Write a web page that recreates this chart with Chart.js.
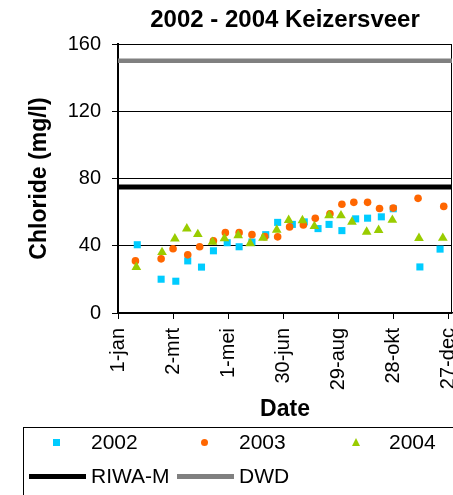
<!DOCTYPE html>
<html>
<head>
<meta charset="utf-8">
<script src="https://cdn.jsdelivr.net/npm/chart.js@4"></script>
<style>
  html, body { margin: 0; padding: 0; background: #fff; overflow: hidden; }
  #wrap { position: relative; width: 453px; height: 495px; font-family: "Liberation Sans", Arial, sans-serif; overflow: hidden; }
  #legend { position: absolute; left: 23px; top: 427px; width: 450px; height: 80px; border: 1px solid #000; box-sizing: border-box; }
  .txt { position: absolute; font-size: 21px; line-height: 24px; color: #000; white-space: nowrap; }
  .mark { position: absolute; }
</style>
</head>
<body>
<div id="wrap">
  <canvas id="chloride" width="453" height="495"></canvas>
  <div id="legend"></div>
</div>
<script>
// chloride at Keizersveer, day of year vs mg/l

const tickDays = [0, 60, 120, 180, 240, 300, 360];
const tickLabels = ['1-jan', '2-mrt', '1-mei', '30-jun', '29-aug', '28-okt', '27-dec'];
const yTicks = [0, 40, 80, 120, 160];

const seriesNames = ['2002', '2003', '2004'];
const seriesColors = ['#00CCFF', '#FF6600', '#99CC00'];

const days2002 = [21, 47, 63, 76, 91, 104, 119, 132, 146, 161, 174, 190, 203, 218, 230, 244, 259, 272, 287, 300, 329, 351];
const chloride2002 = [40.6, 20.1, 18.9, 31, 27.3, 37, 41.8, 39.4, 42.2, 46.6, 53.9, 52.7, 54.2, 50.2, 52.7, 49, 56, 56.4, 57.2, 62, 27.4, 38];

const days2003 = [19, 47, 60, 76, 89, 104, 117, 132, 146, 160, 174, 187, 202, 215, 231, 244, 257, 272, 285, 300, 327, 355];
const chloride2003 = [31, 32.2, 38.2, 34.6, 39.4, 43, 47.8, 47.8, 46.6, 45.4, 45.3, 51.2, 52.3, 56.3, 59, 64.7, 65.8, 65.8, 62.2, 62.4, 68.2, 63.4];

const days2004 = [20, 48, 62, 75, 87, 103, 116, 131, 144, 158, 173, 186, 201, 214, 230, 243, 255, 271, 284, 299, 328, 354];
const chloride2004 = [27.3, 36.1, 44.2, 50.2, 46.8, 42.2, 44.3, 46.2, 41.4, 44.6, 49.4, 55.2, 55.1, 51.6, 58, 58, 54.2, 48.2, 49.3, 55.3, 44.5, 44.6];

const limitNames = ['RIWA-M', 'DWD'];
const limitValues = [75, 150];
const limitColors = ['#000000', '#808080'];

const xMax = 364;

const toPoints = (days, vals) => days.map((d, i) => ({ x: d, y: vals[i] }));
const limitLine = (v) => [{ x: 0, y: v }, { x: xMax, y: v }];

Chart.defaults.font.family = '"Liberation Sans", Arial, sans-serif';
Chart.defaults.color = '#000';

// thin frame line on the right side of the plot
const framePlugin = {
    id: 'frame',
    beforeDatasetsDraw(chart) {
        const { ctx, chartArea } = chart;
        ctx.save();
        ctx.strokeStyle = '#000';
        ctx.lineWidth = 1;
        ctx.beginPath();
        ctx.moveTo(chartArea.right - 0.5, chartArea.top);
        ctx.lineTo(chartArea.right - 0.5, chartArea.bottom);
        ctx.stroke();
        ctx.restore();
    }
};

const data = {
    datasets: [
        {
            label: limitNames[0],
            data: limitLine(limitValues[0]),
            showLine: true,
            borderColor: limitColors[0],
            borderWidth: 5,
            pointRadius: 0,
            order: 5
        },
        {
            label: limitNames[1],
            data: limitLine(limitValues[1]),
            showLine: true,
            borderColor: limitColors[1],
            borderWidth: 4.5,
            pointRadius: 0,
            order: 4
        },
        {
            label: seriesNames[0],
            data: toPoints(days2002, chloride2002),
            pointStyle: 'rect',
            pointRadius: 5,
            backgroundColor: seriesColors[0],
            borderWidth: 0,
            order: 3
        },
        {
            label: seriesNames[1],
            data: toPoints(days2003, chloride2003),
            pointStyle: 'circle',
            pointRadius: 3.8,
            backgroundColor: seriesColors[1],
            borderWidth: 0,
            order: 2
        },
        {
            label: seriesNames[2],
            data: toPoints(days2004, chloride2004),
            pointStyle: 'triangle',
            pointRadius: 5.6,
            backgroundColor: seriesColors[2],
            borderWidth: 0,
            order: 1
        }
    ]
};

const config = {
    type: 'scatter',
    data: data,
    plugins: [framePlugin],
    options: {
        responsive: false,
        animation: false,
        devicePixelRatio: 1,
        layout: { autoPadding: false, padding: { top: 0, left: 0, right: 1, bottom: 72 } },
        plugins: {
            legend: { display: false },
            tooltip: { enabled: false },
            title: {
                display: true,
                fullSize: false,
                text: '2002 - 2004 Keizersveer',
                color: '#000',
                font: { size: 24, weight: 'bold' },
                padding: { top: 6, bottom: 9.2 }
            }
        },
        scales: {
            x: {
                type: 'linear',
                min: 0,
                max: xMax,
                afterBuildTicks: (s) => { s.ticks = tickDays.map(v => ({ value: v })); },
                afterFit: (s) => {
                    s.height = 110;
                    // let the last label run off the edge like the original
                    s.paddingRight = 0;
                    s.paddingLeft = 0;
                },
                ticks: {
                    autoSkip: false,
                    minRotation: 90,
                    maxRotation: 90,
                    padding: 9,
                    color: '#000',
                    font: { size: 20 },
                    callback: (v, i) => tickLabels[i]
                },
                grid: { drawOnChartArea: false, color: '#000', tickLength: 6 },
                border: { color: '#000', width: 1.5 },
                title: {
                    display: true,
                    text: 'Date',
                    color: '#000',
                    font: { size: 23, weight: 'bold' },
                    padding: { top: 0, bottom: 0 }
                }
            },
            y: {
                min: 0,
                max: 160,
                afterBuildTicks: (s) => { s.ticks = yTicks.map(v => ({ value: v })); },
                afterFit: (s) => { s.width = 118; },
                ticks: { padding: 11, color: '#000', font: { size: 20 } },
                grid: { color: '#000', tickLength: 6, lineWidth: 1 },
                border: { color: '#000', width: 2 },
                title: {
                    display: true,
                    text: 'Chloride (mg/l)',
                    color: '#000',
                    font: { size: 23, weight: 'bold' },
                    padding: { top: 26, bottom: 0 }
                }
            }
        }
    }
};

const ctx = document.getElementById('chloride');
const myChart = new Chart(ctx, config);

// html legend below the plot, same layout as the original
const legend = document.getElementById('legend');
const addEl = (cls, css, text) => {
    const el = document.createElement('div');
    el.className = cls;
    el.style.cssText = css;
    if (text) el.textContent = text;
    legend.appendChild(el);
};
const markX = [32, 180, 332];
const textX = [67, 215, 365];
addEl('mark', `left:${markX[0] - 3.5}px;top:11px;width:7px;height:7px;background:${seriesColors[0]};`);
addEl('mark', `left:${markX[1] - 3.5}px;top:11px;width:7px;height:7px;border-radius:50%;background:${seriesColors[1]};`);
addEl('mark', `left:${markX[2] - 4}px;top:10px;width:0;height:0;border-left:4px solid transparent;border-right:4px solid transparent;border-bottom:8px solid ${seriesColors[2]};`);
seriesNames.forEach((n, i) => addEl('txt', `left:${textX[i]}px;top:2px;`, n));
addEl('mark', `left:5px;top:46px;width:57px;height:5px;background:${limitColors[0]};`);
addEl('txt', `left:67px;top:36px;`, limitNames[0]);
addEl('mark', `left:153px;top:46px;width:57px;height:5px;background:${limitColors[1]};`);
addEl('txt', `left:215px;top:36px;`, limitNames[1]);
</script>
</body>
</html>
